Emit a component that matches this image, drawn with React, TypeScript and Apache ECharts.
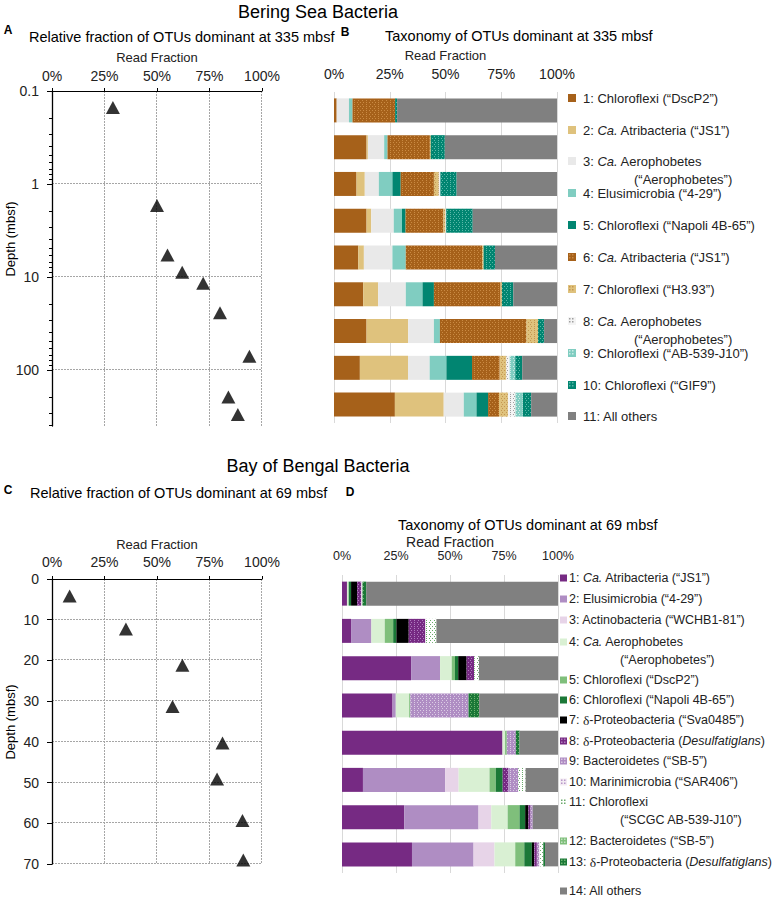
import React, { useEffect, useRef } from 'react';
import * as echarts from 'echarts';

const FONT = '"Liberation Sans", Arial, Helvetica, sans-serif';
const SERIF = '"Liberation Serif", "Times New Roman", serif';

// ---------------- Bering Sea (A, B) ----------------
const bsDepths = [0.15, 1.7, 5.8, 8.9, 11.7, 24.2, 71, 195, 300];
const bsFraction = [29, 50, 55, 62, 72, 80, 94, 84, 88.5];
const bsTaxa = [
  '1: Chloroflexi (“DscP2”)',
  '2: {i|Ca.} Atribacteria (“JS1”)',
  '3: {i|Ca.} Aerophobetes\n{ind| }(“Aerophobetes”)',
  '4: Elusimicrobia (“4-29”)',
  '5: Chloroflexi (“Napoli 4B-65”)',
  '6: {i|Ca.} Atribacteria (“JS1”)',
  '7: Chloroflexi (“H3.93”)',
  '8: {i|Ca.} Aerophobetes\n{ind| }(“Aerophobetes”)',
  '9: Chloroflexi (“AB-539-J10”)',
  '10: Chloroflexi (“GIF9”)',
  '11: All others',
];
const bs1 = [1.2, 14.6, 10.1, 14.6, 10.9, 13.1, 14.6, 11.6, 27.3];
const bs2 = [0, 0.6, 3.7, 2.1, 2.5, 6.7, 18.7, 21.6, 21.9];
const bs3 = [5.5, 7.3, 6.3, 10.1, 12.8, 12.4, 11.5, 9.7, 9.0];
const bs4 = [1.6, 1.5, 6.1, 3.7, 6.0, 7.5, 2.7, 7.5, 5.7];
const bs5 = [0, 0, 3.7, 1.6, 0, 5.1, 0, 11.5, 5.2];
const bs6 = [19.1, 19.0, 14.9, 17.0, 34.2, 29.9, 38.8, 12.4, 4.9];
const bs7 = [0, 0.4, 2.2, 0.9, 0.7, 0.6, 5.2, 3.0, 4.0];
const bs8 = [0, 0, 0.7, 0.3, 0, 0, 0, 1.5, 3.4];
const bs9 = [0, 0, 0, 0, 0, 0, 0, 2.5, 3.3];
const bs10 = [0.9, 6.3, 7.3, 11.9, 5.1, 5.1, 2.7, 3.1, 3.7];
const bs11 = [71.7, 50.3, 45.0, 37.8, 27.8, 19.6, 5.8, 15.6, 11.6];
const bsSeries = [bs1, bs2, bs3, bs4, bs5, bs6, bs7, bs8, bs9, bs10, bs11];

// ---------------- Bay of Bengal (C, D) ----------------
const bbDepths = [4.2, 12.3, 21.2, 31.3, 40.3, 49.1, 59.3, 69];
const bbFraction = [8.4, 35.2, 62.1, 57.4, 81.2, 78.6, 90.7, 91.1];
const bbTaxa = [
  '1: {i|Ca.} Atribacteria (“JS1”)',
  '2: Elusimicrobia (“4-29”)',
  '3: Actinobacteria (“WCHB1-81”)',
  '4: {i|Ca.} Aerophobetes\n{ind| }(“Aerophobetes”)',
  '5: Chloroflexi (“DscP2”)',
  '6: Chloroflexi (“Napoli 4B-65”)',
  '7: {d|δ}-Proteobacteria (“Sva0485”)',
  '8: {d|δ}-Proteobacteria ({i|Desulfatiglans})',
  '9: Bacteroidetes (“SB-5”)',
  '10: Marinimicrobia (“SAR406”)',
  '11: Chloroflexi\n{ind| }(“SCGC AB-539-J10”)',
  '12: Bacteroidetes (“SB-5”)',
  '13: {d|δ}-Proteobacteria ({i|Desulfatiglans})',
  '14: All others',
];
const bb1 = [2.3, 4.2, 32.0, 23.4, 74.3, 9.7, 28.8, 32.4];
const bb2 = [0, 9.4, 13.4, 1.5, 0, 38.1, 34.4, 28.5];
const bb3 = [0, 0, 0, 0, 0, 6.2, 5.9, 9.7];
const bb4 = [0.8, 6.2, 5.4, 6.2, 1.2, 14.3, 7.6, 9.6];
const bb5 = [0, 3.9, 1.5, 0.5, 0.8, 2.9, 5.5, 4.2];
const bb6 = [1.1, 1.5, 1.5, 0, 0, 3.2, 2.6, 3.5];
const bb7 = [2.8, 5.7, 3.9, 0, 0, 0, 1.5, 1.1];
const bb8 = [2.0, 7.7, 3.5, 0, 0, 2.6, 1.0, 1.2];
const bb9 = [0, 0, 0, 27.0, 4.2, 4.6, 1.0, 1.2];
const bb10 = [0, 0, 0, 0, 0, 0, 0, 0];
const bb11 = [0.5, 5.1, 2.2, 0, 0, 3.4, 0, 1.8];
const bb12 = [0, 0, 0, 0, 0, 0, 0, 0];
const bb13 = [1.7, 0, 0, 4.9, 1.7, 0, 0, 0.8];
const bb14 = [88.8, 56.3, 36.6, 36.5, 17.8, 15.0, 11.7, 6.0];
const bbSeries = [bb1, bb2, bb3, bb4, bb5, bb6, bb7, bb8, bb9, bb10, bb11, bb12, bb13, bb14];

// axis decoration: tick values for grid lines / minor ticks
const pctGridTicks = [25, 50, 75, 100];
const bsDepthGridTicks = [1, 10, 100];
const bbDepthGridTicks = [10, 20, 30, 40, 50, 60, 70];
const bsMinorTicks = [0.2, 0.3, 0.4, 0.5, 0.6, 0.7, 0.8, 0.9, 2, 3, 4, 5, 6, 7, 8, 9, 20, 30, 40, 50, 60, 70, 80, 90, 200, 300, 400];

// ---------------- styles ----------------
const bsColors = ['#a6611a', '#dfc27d', '#e9e9e9', '#80cdc1', '#018571', '#a6611a', '#dfc27d', '#f4f4f4', '#80cdc1', '#018571', '#808080'];
const bsDots = [null, null, null, null, null, 'rgba(230,170,100,0.55)', 'rgba(166,97,26,0.45)', 'rgba(90,90,90,0.55)', 'rgba(255,255,255,0.6)', 'rgba(128,205,193,0.7)', null];
const bbColors = ['#762a83', '#af8dc3', '#e7d4e8', '#d9f0d3', '#7fbf7b', '#1b7837', '#000000', '#762a83', '#af8dc3', '#f3ebf3', '#ffffff', '#7fbf7b', '#1b7837', '#808080'];
const bbDots = [null, null, null, null, null, null, null, 'rgba(200,160,215,0.7)', 'rgba(255,255,255,0.55)', 'rgba(175,141,195,0.9)', 'rgba(90,160,90,0.9)', 'rgba(255,255,255,0.55)', 'rgba(127,191,123,0.85)', null];
const legendBY = [98, 130, 161, 193, 225, 257, 289, 321, 353, 385, 416];
const legendDY = [578, 599, 620, 642, 680, 700, 720, 741, 761, 782, 802, 841, 862, 891];

const TEXT = '#222';

function decalOf(c: string | null) {
  if (!c) return undefined;
  return {
    symbol: 'rect',
    symbolSize: 1,
    color: c,
    dashArrayX: [[1, 2], [0, 1.5, 1, 0.5]],
    dashArrayY: [1, 1],
  };
}

function legendEls(names: string[], colors: string[], dots: (string | null)[], ys: number[], iconX: number, iconSize: number, textX: number, fontSize: number, indent: number) {
  const els: any[] = [];
  const rich = {
    i: { fontStyle: 'italic', fontSize, fontFamily: FONT, fill: TEXT, lineHeight: 18 },
    d: { fontSize: fontSize + 1, fontFamily: SERIF, fill: TEXT, lineHeight: 18 },
    ind: { width: indent, fontSize, fontFamily: FONT, lineHeight: 18 },
  };
  names.forEach((n, i) => {
    const y = ys[i];
    els.push({ type: 'rect', silent: true, shape: { x: iconX, y: y - iconSize / 2, width: iconSize, height: iconSize }, style: { fill: colors[i] } });
    const dc = dots[i];
    if (dc) {
      for (let dx = 1; dx < iconSize - 1; dx += 3) {
        for (let dy = 1; dy < iconSize - 1; dy += 3) {
          els.push({ type: 'rect', silent: true, shape: { x: iconX + dx, y: y - iconSize / 2 + dy, width: 1.5, height: 1.5 }, style: { fill: dc } });
        }
      }
    }
    els.push({
      type: 'text', silent: true, x: textX, y: y - 9,
      style: { text: n, fontSize, fontFamily: FONT, fill: TEXT, align: 'left', textAlign: 'left', verticalAlign: 'top', textVerticalAlign: 'top', lineHeight: 18, rich },
    });
  });
  return els;
}

function txt(text: string, x: number, y: number, size: number, opts: any = {}) {
  return {
    type: 'text', silent: true, x, y, rotation: opts.rotation || 0,
    style: {
      text, fontSize: size, fontFamily: FONT, fontWeight: opts.bold ? 'bold' : 'normal', fill: '#000',
      align: opts.align || 'left', textAlign: opts.align || 'left', verticalAlign: 'middle', textVerticalAlign: 'middle',
    },
  };
}

// grid lines drawn through the axes' own scales
function gridLineSeries(xAxisIndex: number, yAxisIndex: number, xTicks: number[], yTicks: number[], yRef: number) {
  const data = [
    ...xTicks.map((v) => [v, yRef, 0]),
    ...yTicks.map((v) => [0, v, 1]),
  ];
  return {
    type: 'custom', name: 'grid lines ' + xAxisIndex, xAxisIndex, yAxisIndex, silent: true, clip: false, z: 1,
    data,
    renderItem: (params: any, api: any) => {
      const cs = params.coordSys;
      const kind = api.value(2);
      const p = api.coord([api.value(0), api.value(1)]);
      const style = { stroke: '#a6a6a6', lineWidth: 1, lineDash: [2, 1] };
      if (kind === 0) {
        const x = Math.round(p[0]) - 0.5;
        return { type: 'line', shape: { x1: x, y1: cs.y, x2: x, y2: cs.y + cs.height }, style };
      }
      const y = Math.round(p[1]) - 0.5;
      return { type: 'line', shape: { x1: cs.x, y1: y, x2: cs.x + cs.width, y2: y }, style };
    },
  };
}

function buildOption() {
  const scatterX = (gridIndex: number, margin: number, gap: number) => ({
    type: 'value', gridIndex, position: 'top', min: 0, max: 100, interval: 25,
    name: 'Read Fraction', nameLocation: 'middle', nameGap: gap, nameMoveOverlap: false,
    nameTextStyle: { fontSize: 13, color: TEXT, fontFamily: FONT },
    axisLine: { show: true, lineStyle: { color: '#000', width: 1 } },
    axisTick: { show: true, length: 3, inside: false, lineStyle: { color: '#000' } },
    axisLabel: { formatter: '{value}%', fontSize: 14, color: TEXT, margin, fontFamily: FONT },
    splitLine: { show: false },
    z: 3,
  });
  const barX = (gridIndex: number, margin: number, gap: number, fs: number, nfs: number) => ({
    type: 'value', gridIndex, position: 'top', min: 0, max: 100, interval: 25,
    name: 'Read Fraction', nameLocation: 'middle', nameGap: gap, nameMoveOverlap: false,
    nameTextStyle: { fontSize: nfs, color: TEXT, fontFamily: FONT },
    axisLine: { show: false }, axisTick: { show: false },
    axisLabel: { formatter: '{value}%', fontSize: fs, color: TEXT, margin, fontFamily: FONT },
    splitLine: { show: true, lineStyle: { color: '#d9d9d9', type: 'solid', width: 1 } },
  });
  const catY = (gridIndex: number, data: number[]) => ({
    type: 'category', gridIndex, inverse: true, data: data.map(String),
    axisLine: { show: false }, axisTick: { show: false }, axisLabel: { show: false }, splitLine: { show: false },
  });

  const series: any[] = [];
  series.push(gridLineSeries(0, 0, pctGridTicks, bsDepthGridTicks, 1));
  series.push(gridLineSeries(2, 2, pctGridTicks, bbDepthGridTicks, 10));
  series.push({
    type: 'scatter', name: 'Bering Sea', xAxisIndex: 0, yAxisIndex: 0,
    data: bsDepths.map((d, i) => [bsFraction[i], d]),
    symbol: 'triangle', symbolSize: [14, 13], itemStyle: { color: '#000' }, silent: true, z: 5,
  });
  series.push({
    type: 'custom', name: 'minor ticks', xAxisIndex: 0, yAxisIndex: 0, silent: true, clip: false,
    data: bsMinorTicks.map((v) => [0, v]),
    renderItem: (params: any, api: any) => {
      const p = api.coord([0, api.value(1)]);
      const y = Math.round(p[1]) - 0.5;
      return { type: 'line', shape: { x1: p[0] - 3, y1: y, x2: p[0], y2: y }, style: { stroke: '#000', lineWidth: 1 } };
    },
  });
  series.push({
    type: 'scatter', name: 'Bay of Bengal', xAxisIndex: 2, yAxisIndex: 2,
    data: bbDepths.map((d, i) => [bbFraction[i], d]),
    symbol: 'triangle', symbolSize: [14, 13], itemStyle: { color: '#000' }, silent: true, z: 5,
  });
  bsSeries.forEach((vals, i) => {
    series.push({
      type: 'bar', name: 'BS ' + bsTaxa[i].replace(/\{\w+\|([^}]*)\}/g, '$1').replace(/\n/g, ' '),
      xAxisIndex: 1, yAxisIndex: 1, stack: 'bs', barWidth: 24, data: vals, silent: true,
      itemStyle: { color: bsColors[i], decal: decalOf(bsDots[i]) },
    });
  });
  bbSeries.forEach((vals, i) => {
    series.push({
      type: 'bar', name: 'BB ' + bbTaxa[i].replace(/\{\w+\|([^}]*)\}/g, '$1').replace(/\n/g, ' '),
      xAxisIndex: 3, yAxisIndex: 3, stack: 'bb', barWidth: 24, data: vals, silent: true,
      itemStyle: { color: bbColors[i], decal: decalOf(bbDots[i]) },
    });
  });

  const graphic: any[] = [
    txt('Bering Sea Bacteria', 318, 12, 18, { align: 'center' }),
    txt('A', 8, 30, 12, { bold: true, align: 'center' }),
    txt('Relative fraction of OTUs dominant at 335 mbsf', 29, 37, 14.5),
    txt('B', 345, 32, 12, { bold: true, align: 'center' }),
    txt('Taxonomy of OTUs dominant at 335 mbsf', 385, 36, 14.5),
    txt('Depth (mbsf)', 10, 239, 13, { align: 'center', rotation: Math.PI / 2 }),
    txt('Bay of Bengal Bacteria', 318, 466, 18, { align: 'center' }),
    txt('C', 8, 490, 12, { bold: true, align: 'center' }),
    txt('Relative fraction of OTUs dominant at 69 mbsf', 30, 493, 14.5),
    txt('D', 350, 492, 12, { bold: true, align: 'center' }),
    txt('Taxonomy of OTUs dominant at 69 mbsf', 398, 525, 14.5),
    txt('Depth (mbsf)', 10, 722, 13, { align: 'center', rotation: Math.PI / 2 }),
    ...legendEls(bsTaxa, bsColors, bsDots, legendBY, 568, 8, 583, 13, 51),
    ...legendEls(bbTaxa, bbColors, bbDots, legendDY, 560, 7, 569, 12.5, 51),
  ];

  return {
    animation: false,
    backgroundColor: '#ffffff',
    textStyle: { fontFamily: FONT },
    grid: [
      { left: 52, top: 91, width: 210, height: 335, outerBoundsMode: 'none', containLabel: false },
      { left: 334, top: 92, width: 223, height: 331, outerBoundsMode: 'none', containLabel: false },
      { left: 52, top: 579, width: 210, height: 285, outerBoundsMode: 'none', containLabel: false },
      { left: 342, top: 575, width: 216, height: 298, outerBoundsMode: 'none', containLabel: false },
    ],
    xAxis: [
      scatterX(0, 8, 27),
      barX(1, 11, 30, 14, 13),
      scatterX(2, 10, 28),
      barX(3, 13, 26, 12.5, 14),
    ],
    yAxis: [
      {
        type: 'log', logBase: 10, gridIndex: 0, min: 0.1, max: 400, inverse: true,
        axisLine: { show: true, lineStyle: { color: '#000', width: 1.3 } },
        axisTick: { show: true, length: 5, lineStyle: { color: '#000' } },
        axisLabel: { fontSize: 14, color: TEXT, margin: 13, showMaxLabel: false, fontFamily: FONT },
        splitLine: { show: false },
        z: 3,
      },
      catY(1, bsDepths),
      {
        type: 'value', gridIndex: 2, min: 0, max: 70, interval: 10, inverse: true,
        axisLine: { show: true, lineStyle: { color: '#000', width: 1.3 } },
        axisTick: { show: true, length: 5, lineStyle: { color: '#000' } },
        axisLabel: { fontSize: 14, color: TEXT, margin: 13, fontFamily: FONT },
        splitLine: { show: false },
        z: 3,
      },
      catY(3, bbDepths),
    ],
    series,
    graphic,
  };
}

export default function App() {
  const ref = useRef<HTMLDivElement>(null);
  useEffect(() => {
    if (!ref.current) return;
    const chart = echarts.init(ref.current, undefined, { renderer: 'svg' });
    chart.setOption(buildOption() as any);
    return () => chart.dispose();
  }, []);
  return <div ref={ref} style={{ position: 'fixed', left: 0, top: 0, width: 779, height: 901, background: '#fff' }} />;
}
